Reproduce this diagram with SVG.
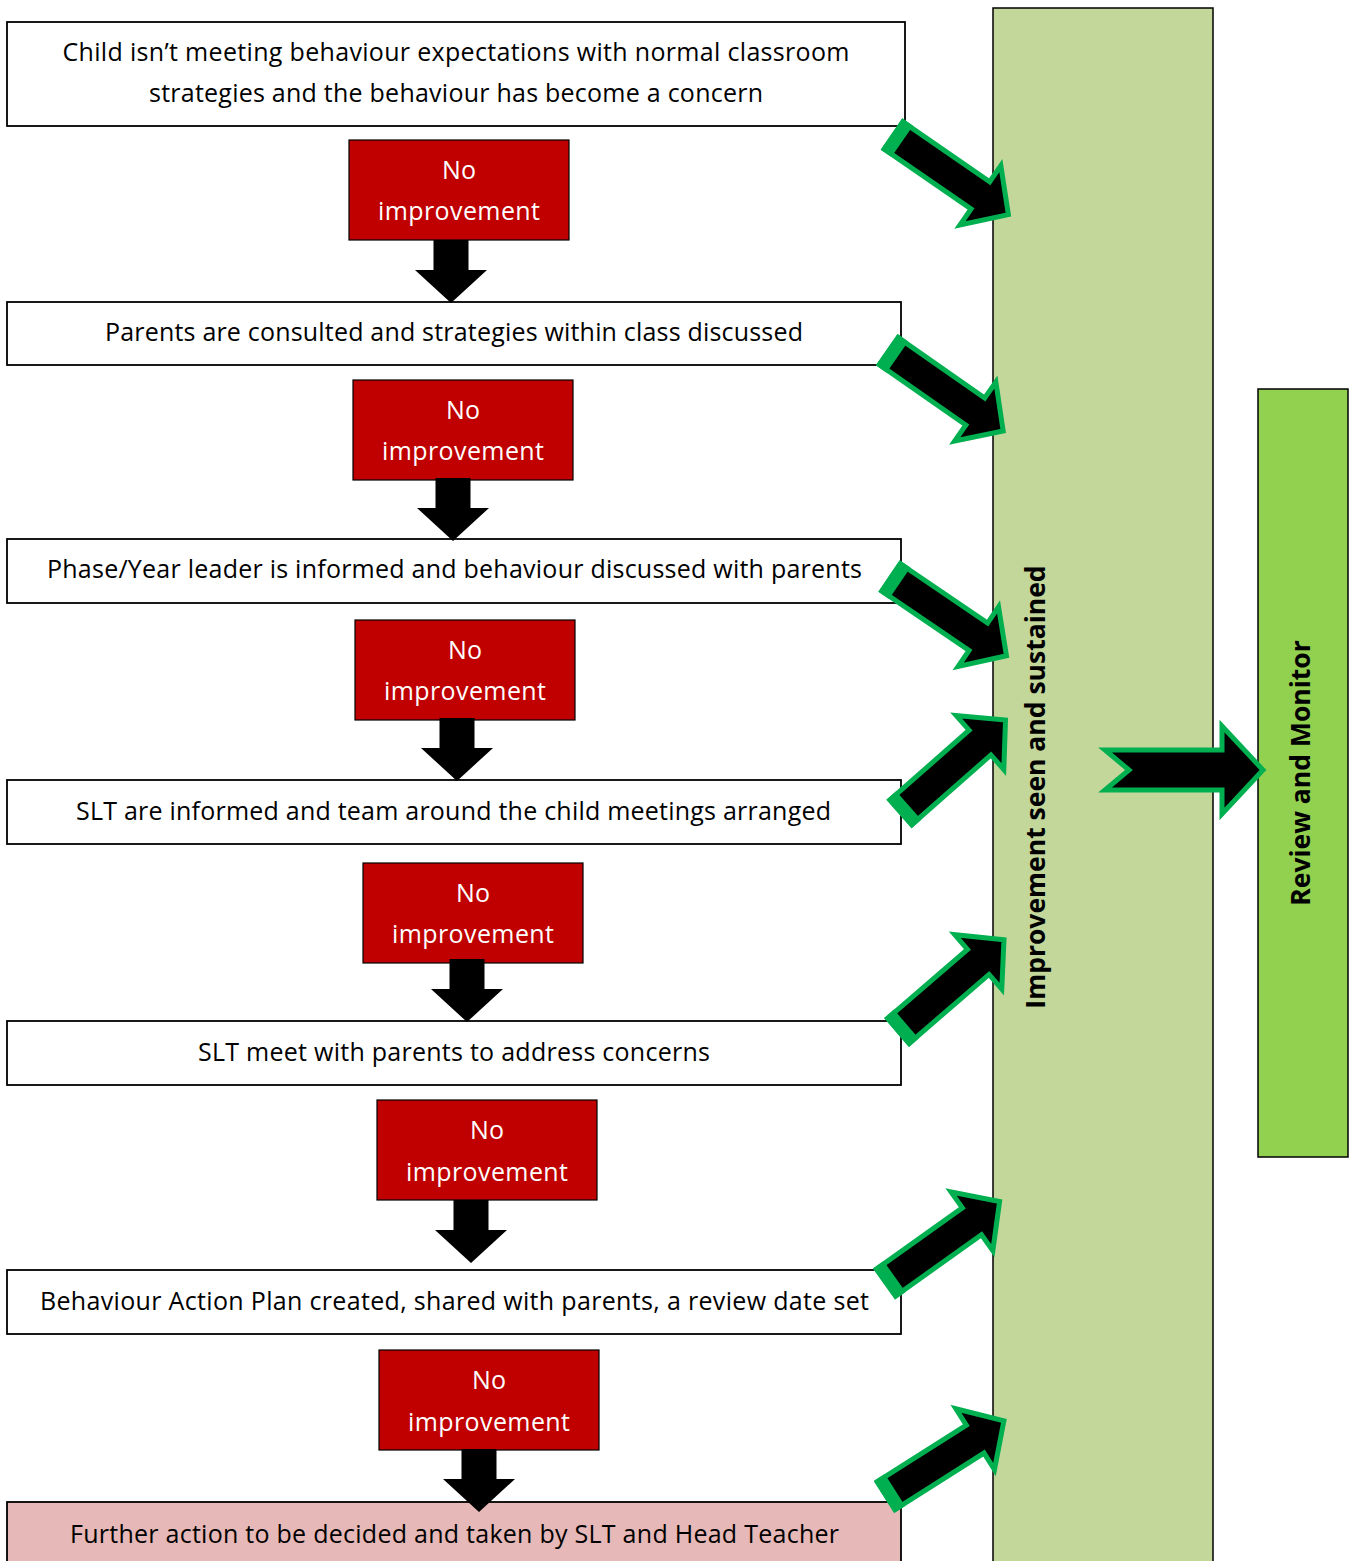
<svg xmlns="http://www.w3.org/2000/svg" xmlns:xlink="http://www.w3.org/1999/xlink" width="1353" height="1561" viewBox="0 0 1353 1561">
<defs>
<style>
.box{fill:#ffffff;stroke:#000000;stroke-width:1.8}
.red{fill:#C00000;stroke:#000000;stroke-width:1.2}
.pink{fill:#E6B8B7;stroke:#000000;stroke-width:1.8}
.t{font-family:"Open Sans","Noto Sans","Liberation Sans",sans-serif;font-size:25px;fill:#000000;text-anchor:middle;dominant-baseline:central}
.w{fill:#ffffff}
.vt{font-family:"Open Sans","Noto Sans","Liberation Sans",sans-serif;font-size:26.5px;font-weight:bold;fill:#000000;text-anchor:middle}
.ga{fill:#000000;stroke:#00B050;stroke-width:5;stroke-linejoin:miter}
.band{fill:#00B050}
</style>
<path id="down" d="M-17.5,0 H17.5 V30 H36 L0,63 L-36,30 H-17.5 Z" fill="#000000"/>
<g id="diag">
<path class="ga" d="M2.5,-16.5 H108 V-36 L142,0 L108,36 V16.5 H2.5 Z"/>
<rect class="band" x="0" y="-19" width="13" height="38"/>
</g>
</defs>
<rect width="1353" height="1561" fill="#ffffff"/>

<g id="col-improvement">
<rect x="993" y="8" width="220" height="1560" fill="#C4D79B" stroke="#000000" stroke-width="1.5"/>
<text class="vt" transform="translate(1045,787) rotate(-90)">Improvement seen and sustained</text>
</g>
<g id="review">
<rect x="1258" y="389" width="90" height="768" fill="#92D050" stroke="#000000" stroke-width="1.5"/>
<text class="vt" transform="translate(1310,773) rotate(-90)">Review and Monitor</text>
</g>

<g id="n1">
<rect class="box" x="7" y="22" width="898" height="104"/>
<text class="t" x="456" y="51" textLength="787" lengthAdjust="spacing">Child isn’t meeting behaviour expectations with normal classroom</text>
<text class="t" x="456" y="92" textLength="614" lengthAdjust="spacing">strategies and the behaviour has become a concern</text>
</g>
<g id="r1">
<rect class="red" x="349" y="140" width="220" height="100"/>
<text class="t w" x="459" y="169">No</text>
<text class="t w" x="459" y="210" textLength="162" lengthAdjust="spacing">improvement</text>
</g>
<g id="n2">
<rect class="box" x="7" y="302" width="894" height="63"/>
<text class="t" x="454" y="331" textLength="698" lengthAdjust="spacing">Parents are consulted and strategies within class discussed</text>
</g>
<g id="r2">
<rect class="red" x="353" y="380" width="220" height="100"/>
<text class="t w" x="463" y="409">No</text>
<text class="t w" x="463" y="450" textLength="162" lengthAdjust="spacing">improvement</text>
</g>
<g id="n3">
<rect class="box" x="7" y="539" width="894" height="64"/>
<text class="t" x="454.5" y="568" textLength="815" lengthAdjust="spacing">Phase/Year leader is informed and behaviour discussed with parents</text>
</g>
<g id="r3">
<rect class="red" x="355" y="620" width="220" height="100"/>
<text class="t w" x="465" y="649">No</text>
<text class="t w" x="465" y="690" textLength="162" lengthAdjust="spacing">improvement</text>
</g>
<g id="n4">
<rect class="box" x="7" y="780" width="894" height="64"/>
<text class="t" x="453.5" y="810" textLength="755" lengthAdjust="spacing">SLT are informed and team around the child meetings arranged</text>
</g>
<g id="r4">
<rect class="red" x="363" y="863" width="220" height="100"/>
<text class="t w" x="473" y="892">No</text>
<text class="t w" x="473" y="933" textLength="162" lengthAdjust="spacing">improvement</text>
</g>
<g id="n5">
<rect class="box" x="7" y="1021" width="894" height="64"/>
<text class="t" x="454" y="1051" textLength="512" lengthAdjust="spacing">SLT meet with parents to address concerns</text>
</g>
<g id="r5">
<rect class="red" x="377" y="1100" width="220" height="100"/>
<text class="t w" x="487" y="1129">No</text>
<text class="t w" x="487" y="1171" textLength="162" lengthAdjust="spacing">improvement</text>
</g>
<g id="n6">
<rect class="box" x="7" y="1270" width="894" height="64"/>
<text class="t" x="454.5" y="1300" textLength="829" lengthAdjust="spacing">Behaviour Action Plan created, shared with parents, a review date set</text>
</g>
<g id="r6">
<rect class="red" x="379" y="1350" width="220" height="100"/>
<text class="t w" x="489" y="1379">No</text>
<text class="t w" x="489" y="1421" textLength="162" lengthAdjust="spacing">improvement</text>
</g>
<g id="n7">
<rect class="pink" x="7" y="1502" width="894" height="70"/>
<text class="t" x="454.5" y="1533" textLength="769" lengthAdjust="spacing">Further action to be decided and taken by SLT and Head Teacher</text>
</g>

<g id="connectors">
<use xlink:href="#down" transform="translate(451,240)"/>
<use xlink:href="#down" transform="translate(453,478)"/>
<use xlink:href="#down" transform="translate(457,718)"/>
<use xlink:href="#down" transform="translate(467,959)"/>
<use xlink:href="#down" transform="translate(471,1200)"/>
<use xlink:href="#down" transform="translate(479,1449)"/>
<use xlink:href="#diag" transform="translate(891.5,134) rotate(34.6)"/>
<use xlink:href="#diag" transform="translate(886.7,349.7) rotate(34.9)"/>
<use xlink:href="#diag" transform="translate(889,576) rotate(34.2)"/>
<use xlink:href="#diag" transform="translate(899,814) rotate(-41.4)"/>
<use xlink:href="#diag" transform="translate(896.5,1032.5) rotate(-40.8)"/>
<use xlink:href="#diag" transform="translate(884,1284) rotate(-35.5)"/>
<use xlink:href="#diag" transform="translate(884,1497) rotate(-32.4)"/>
<path class="ga" d="M1105,750 H1222 V726 L1263,770 L1222,814 V790 H1105 L1129,770 Z"/>
</g>
</svg>
